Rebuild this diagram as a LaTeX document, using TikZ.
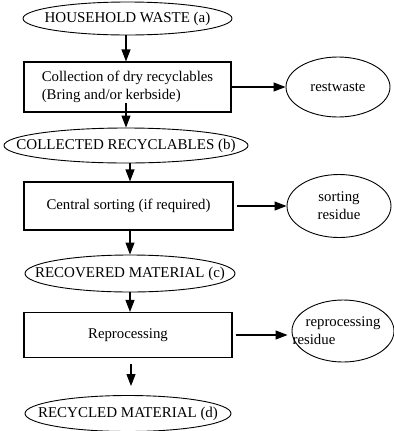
\documentclass[tikz,border=0pt]{standalone}
\usepackage{fontspec}
\setmainfont{Liberation Serif}
\usetikzlibrary{shapes.geometric,arrows.meta}

\begin{document}
\begin{tikzpicture}[x=1bp,y=-1bp,
  every node/.style={font=\fontsize{14.8bp}{18bp}\selectfont, inner sep=0pt},
  stock/.style={ellipse, draw, line width=0.9bp, inner xsep=-60bp, inner ysep=-10bp},
  bigstock/.style={stock, font=\fontsize{15bp}{18bp}\selectfont},
  stage/.style={rectangle, draw, line width=1.1bp},
  flow/.style={-{Triangle[length=12bp,width=9bp]}, line width=1.1bp}]
  \useasboundingbox (0,0) rectangle (394,431);

  % main chain of material stocks and processing stages
  \node[bigstock, minimum width=209bp, minimum height=33bp] (a) at (127.5,18.5) {HOUSEHOLD WASTE (a)};
  \node[stage, minimum width=207bp, minimum height=50bp, align=left] (collect) at (127.5,87)
    {Collection of dry recyclables\\(Bring and/or kerbside)};
  \node[bigstock, minimum width=244bp, minimum height=35bp] (b) at (126,145.5) {COLLECTED RECYCLABLES (b)};
  \node[stage, minimum width=209bp, minimum height=48bp] (sort) at (128.5,206) {Central sorting (if required)};
  \node[bigstock, minimum width=210bp, minimum height=37bp] (c) at (130,273.5) {RECOVERED MATERIAL (c)};
  \node[stage, minimum width=208bp, minimum height=45bp] (reproc) at (128,335) {Reprocessing};
  \node[bigstock, minimum width=206bp, minimum height=36bp] (d) at (128,413.5) {RECYCLED MATERIAL (d)};

  % side outputs
  \node[stock, minimum width=104bp, minimum height=60bp] (rest) at (338,87) {restwaste};
  \node[stock, minimum width=104bp, minimum height=63bp, align=center] (sres) at (339,206) {sorting\\residue};
  \node[stock, minimum width=102bp, minimum height=62bp, align=left] (rres) at (343,331)
    {reprocessing\\\hspace{-13bp}residue};

  % vertical flows
  \draw[flow] (a.south -| 126,0) -- (collect.north -| 126,0);
  \draw[flow] (collect.south -| 126,0) ++(0,-10) -- (b.north -| 126,0);
  \draw[flow] (b.south -| 130,0) -- (sort.north -| 130,0);
  \draw[flow] (sort.south -| 130,0) -- (c.north -| 130,0);
  \draw[flow] (c.south -| 130,0) -- (reproc.north -| 130,0);
  \draw[flow, shorten <=6bp, shorten >=9bp] (reproc.south -| 131,0) -- (d.north -| 131,0);

  % horizontal flows to residues
  \draw[flow] (collect.east) -- (rest.west);
  \draw[flow, shorten <=3bp] (sort.east) -- (sres.west);
  \draw[flow, shorten <=3bp, shorten >=4bp] (reproc.east) -- (reproc.east -| rres.west);
\end{tikzpicture}
\end{document}
